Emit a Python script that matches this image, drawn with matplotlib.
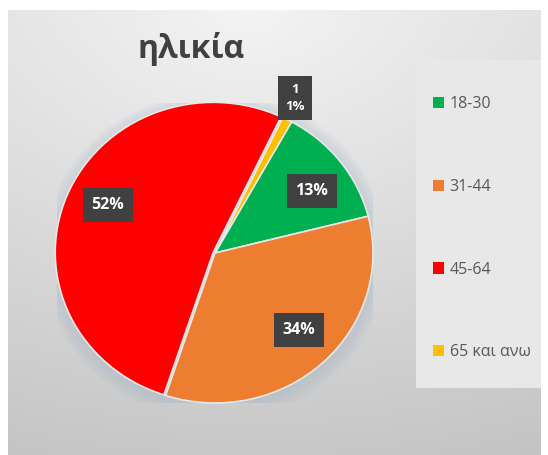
import numpy as np
import matplotlib
matplotlib.use("Agg")
import matplotlib.pyplot as plt
from matplotlib.patches import Rectangle, Ellipse

plt.rcParams['font.family'] = ['Open Sans', 'Noto Sans', 'DejaVu Sans']

title = "ηλικία"
categories = ["18-30", "31-44", "45-64", "65 και ανω"]
values = [13, 34, 52, 1]
percent_labels = ["13%", "34%", "52%", "1\n1%"]
colors = ["#00b050", "#ed7d31", "#ff0000", "#ffc000"]

W, H = 548, 455
fig = plt.figure(figsize=(W / 100, H / 100), dpi=100)
fig.patch.set_facecolor("white")

# background chart area with gradient
bx0, by_top, bx1 = 8, 10, 541
bg = fig.add_axes([bx0 / W, 0, (bx1 - bx0) / W, (H - by_top) / H])
yy, xx = np.mgrid[0:1:200j, 0:1:200j]
d = np.sqrt(((xx - 0.45) * 0.9) ** 2 + (yy * 1.0) ** 2)
g = 0.955 - 0.16 * np.clip(d, 0, 1.2) / 1.2 - 0.04 * yy
img = np.dstack([g, g, g])
bg.imshow(img, extent=[0, 1, 0, 1], origin="upper", aspect="auto", interpolation="bicubic")
bg.set_xlim(0, 1); bg.set_ylim(0, 1)
bg.axis("off")

# overlay in pixel coords
ov = fig.add_axes([0, 0, 1, 1], facecolor="none")
ov.set_xlim(0, W); ov.set_ylim(H, 0)
ov.axis("off")
ov.add_patch(Rectangle((416, 60), 125, 328, facecolor="#e8e8e8", edgecolor="none", zorder=1))
ov.text(191, 49, title, ha="center", va="center", fontsize=23, fontweight="bold", color="#404040")

# pie (slightly elliptical like the reference)
cx, cy, rx, ry = 215, 253, 158, 150
pax = fig.add_axes([(cx - rx) / W, (H - cy - ry) / H, 2 * rx / W, 2 * ry / H], facecolor="none")
# soft shadow
for k in range(8):
    pax.add_patch(Ellipse((0.0, -0.02), 2 * (1.0 + 0.012 * (k + 1)), 2 * (1.0 + 0.012 * (k + 1)),
                          facecolor="#9fb4c8", edgecolor="none", alpha=0.05, zorder=0))
wedges, _ = pax.pie(values, colors=colors, startangle=61, counterclock=False, radius=1.0,
                    wedgeprops=dict(edgecolor="#e8e8e8", linewidth=1.2),
                    explode=[0, 0, 0.012, 0])
pax.set_xlim(-1, 1); pax.set_ylim(-1, 1)
pax.set_aspect("auto")
pax.axis("off")

label_r = [0.74, 0.74, 0.75, 1.15]
label_da = [-3.5, 3, -3.5, 1.1]
for w, lab, lr, da in zip(wedges, percent_labels, label_r, label_da):
    ang = np.deg2rad((w.theta1 + w.theta2) / 2 + da)
    if "\n" in lab:
        fs, pad = 9.5, 0.55
    else:
        fs, pad = 11.5, 0.55
    pax.text(lr * np.cos(ang), lr * np.sin(ang), lab, ha="center", va="center",
             fontsize=fs, fontweight="bold", color="white", linespacing=1.4,
             bbox=dict(boxstyle=f"square,pad={pad}", facecolor="#404040", edgecolor="none"),
             zorder=5)

# legend
leg = fig.legend(wedges, categories, loc="upper left",
                 bbox_to_anchor=(425 / W, 1 - 88 / H), frameon=False,
                 fontsize=11.5, labelcolor="#595959", handlelength=0.7, handleheight=0.7,
                 handletextpad=0.35, labelspacing=4.18, borderpad=0)
for h in leg.legend_handles:
    h.set_edgecolor("none")

fig.savefig("out.png", dpi=100, facecolor="white")
